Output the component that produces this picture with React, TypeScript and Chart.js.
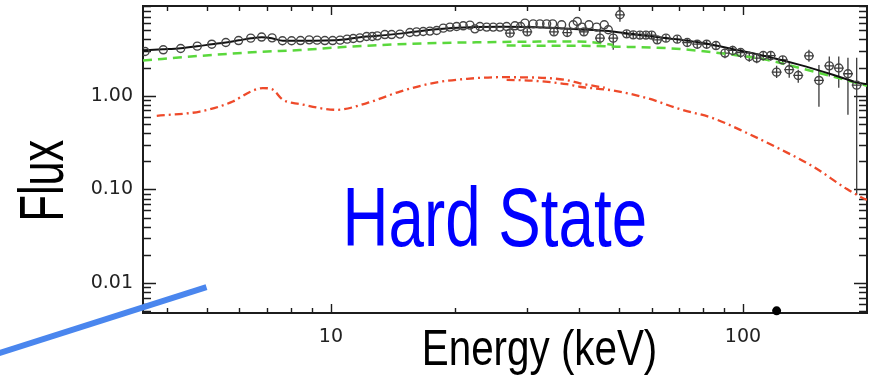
import { useEffect, useRef } from 'react';
import { Chart, registerables } from 'chart.js';

Chart.register(...registerables);

// Axis ranges (keV, flux)
const X_MIN = 3.5;
const X_MAX = 200;
const Y_MIN = 0.0048;
const Y_MAX = 9.1;

// Labelled ticks
const xTickLabels = [10, 100];
const yTickLabels = [0.01, 0.1, 1];

// Observed spectrum (energy in keV, flux, error range; null = error inside the marker)
const obsEnergy = [
  3.54, 3.92, 4.32, 4.74, 5.14, 5.56, 5.97, 6.39, 6.79, 7.2, 7.63, 8.03, 8.44, 8.86, 9.26, 9.67,
  10.1, 10.53, 10.95, 11.33, 11.76, 12.21, 12.6, 12.96,
  13.52, 14.04, 14.71, 15.55, 16.14, 16.75, 17.39, 18.06, 18.74, 19.45, 20.19, 20.95, 21.75, 22.36,
  23.0, 23.88, 24.77, 25.72, 26.7, 27.2, 27.97, 28.87, 29.58, 29.96, 30.97, 32.16, 33.39, 34.53,
  34.78, 36.31, 37.46, 38.74, 39.61, 40.66, 41.12, 42.29, 44.15, 44.98, 46.07, 47.11,
  48.44, 50.29, 52.21, 54.17, 56.23, 58.15, 60.03, 61.94, 65.04, 69.27, 73.25, 77.46, 81.64, 86.02,
  90.44, 94.41, 98.72, 103.6, 108.0, 112.0, 116.8, 120.7, 124.9, 129.5, 136.2, 144.6, 152.9, 162.0,
  170.8, 179.8, 188.8,
];
const obsFlux = [
  2.97, 3.1, 3.2, 3.39, 3.56, 3.71, 3.89, 4.13, 4.24, 4.16, 3.87, 3.87, 3.89, 3.96, 3.93, 3.89,
  3.89, 3.93, 4.03, 4.09, 4.16, 4.3, 4.3, 4.37,
  4.51, 4.51, 4.56, 4.74, 4.82, 4.86, 4.91, 4.98, 5.28, 5.42, 5.5, 5.59, 5.69, 5.19,
  5.5, 5.42, 5.42, 5.42, 5.5, 4.67, 5.59, 5.5, 5.97, 4.82, 5.87, 5.87, 5.87, 5.87,
  4.82, 5.73, 4.74, 5.73, 6.21, 5.42, 4.82, 5.73, 5.42, 4.13, 5.73, 5.07,
  4.13, 7.33, 4.59, 4.48, 4.45, 4.45, 4.45, 3.96, 4.13, 4.03, 3.71, 3.56, 3.56, 3.44,
  2.86, 3.05, 2.9, 2.63, 2.53, 2.69, 2.69, 1.79, 2.42, 1.9, 1.65, 2.67, 1.46, 2.09,
  1.98, 1.72, 1.3,
];
const obsFluxLo = [
  null, null, null, null, null, null, null, null, null, null, null, null, null, null, null, null,
  null, null, null, null, null, null, null, null,
  null, null, null, null, null, null, null, null, null, null, null, null, null, null,
  null, null, null, null, null, 4.3, null, null, null, 4.45, null, null, null, null,
  4.45, null, 4.35, null, null, null, 4.4, null, null, 3.65, null, null,
  3.1, 6.17, 4.18, 4.08, 4.05, 4.05, 4.05, 3.6, 3.76, 3.67, 3.38, 3.24, 3.24, 3.13,
  2.52, 2.68, 2.55, 2.31, 2.23, 2.37, 2.37, 1.55, 2.18, 1.56, 1.38, 2.31, 0.763, 1.61,
  1.22, 0.627, 0.0877,
];
const obsFluxHi = [
  null, null, null, null, null, null, null, null, null, null, null, null, null, null, null, null,
  null, null, null, null, null, null, null, null,
  null, null, null, null, null, null, null, null, null, null, null, null, null, null,
  null, null, null, null, null, 5.05, null, null, null, 5.2, null, null, null, null,
  5.2, null, 5.15, null, null, null, 5.25, null, null, 5.07, null, null,
  4.86, 8.71, 5.0, 4.88, 4.85, 4.85, 4.85, 4.32, 4.5, 4.39, 4.04, 3.88, 3.88, 3.75,
  3.2, 3.42, 3.25, 2.95, 2.83, 3.01, 3.01, 2.09, 2.66, 2.25, 1.9, 3.1, 2.14, 2.63,
  2.63, 2.55, 2.55,
];

// Total model
const modelEnergy = [
  3.5, 3.91, 4.32, 4.73, 5.14, 5.56, 5.98, 6.4, 6.8, 7.19, 7.65, 8.41, 9.67, 10.94, 12.17, 13.0,
  14.96, 18.07, 21.7, 26.2, 31.6, 38.0, 46.2, 54.1, 65.4, 78.6, 94.6, 114.3, 137.4, 165.3, 189, 200,
];
const modelFlux = [
  3.06, 3.14, 3.23, 3.38, 3.55, 3.71, 3.91, 4.11, 4.21, 4.11, 3.88, 3.87, 3.89, 4.03, 4.29, 4.37,
  4.65, 5.13, 5.39, 5.45, 5.39, 5.19, 4.94, 4.56, 4.13, 3.71, 3.15, 2.63, 2.14, 1.68, 1.39, 1.33,
];

// Comptonised continuum (low-energy and high-energy instrument normalisations)
const comptLowEnergy = [3.5, 4.81, 6.72, 8.41, 10.52, 13.14, 18.07, 23.0, 29.0, 36.0, 42.0, 48.4];
const comptLowFlux = [2.38, 2.67, 2.95, 3.08, 3.3, 3.48, 3.66, 3.73, 3.78, 3.8, 3.77, 3.5];
const comptHighEnergy = [26.7, 32.2, 40.2, 49.5, 65.4, 78.6, 94.6, 114.3, 137.4, 165.3, 189, 200];
const comptHighFlux = [3.44, 3.43, 3.42, 3.35, 3.23, 3.02, 2.74, 2.42, 1.98, 1.61, 1.37, 1.28];

// Reflection component
const reflLowEnergy = [
  3.78, 4.81, 5.78, 6.36, 6.84, 7.19, 7.65, 8.41, 10.34, 12.23, 14.71, 17.7, 21.4, 25.7, 30.9,
  37.4, 40.2, 46.2,
];
const reflLowFlux = [
  0.612, 0.68, 0.869, 1.1, 1.21, 1.18, 0.906, 0.818, 0.709, 0.836, 1.11, 1.37, 1.52, 1.58, 1.57,
  1.47, 1.36, 1.22,
];
const reflHighEnergy = [26.7, 30.9, 37.4, 40.2, 48.4, 58.5, 70.3, 84.5, 102.3, 123, 148, 178.8, 195.6, 200];
const reflHighFlux = [1.48, 1.45, 1.33, 1.25, 1.14, 0.945, 0.721, 0.578, 0.4, 0.27, 0.176, 0.101, 0.0808, 0.0775];

// Pointer line and the marker on the energy axis
const pointerEnergy = [1.49, 4.99];
const pointerFlux = [0.00167, 0.00906];
const markerEnergy = [120.7];
const markerFlux = [0.00506];

const TITLE_FONT = '"Liberation Sans", Arial, sans-serif';
const TICK_FONT = '"DejaVu Sans", sans-serif';
const INK = '#1c1c1c';

const toPoints = (xs: number[], ys: number[]) => xs.map((x, i) => ({ x, y: ys[i] }));

const matchLabel = (v: number, list: number[]) =>
  list.find((t) => Math.abs(v - t) / t < 1e-6);

// Text fitted to a given ink width and cap height
function drawFitted(
  ctx: CanvasRenderingContext2D,
  text: string,
  x: number,
  y: number,
  capHeight: number,
  width: number,
  color: string,
  vertical: boolean
) {
  ctx.save();
  ctx.font = `100px ${TITLE_FONT}`;
  const cap = ctx.measureText('H').actualBoundingBoxAscent || 72;
  const size = (100 * capHeight) / cap;
  ctx.font = `${size}px ${TITLE_FONT}`;
  const m = ctx.measureText(text);
  const ink = m.actualBoundingBoxLeft + m.actualBoundingBoxRight;
  ctx.translate(x, y);
  if (vertical) ctx.rotate(-Math.PI / 2);
  ctx.scale(width / ink, 1);
  ctx.fillStyle = color;
  ctx.textAlign = 'left';
  ctx.textBaseline = 'alphabetic';
  ctx.fillText(text, m.actualBoundingBoxLeft, 0);
  ctx.restore();
}

const decorPlugin = {
  id: 'decor',
  beforeDatasetsDraw(chart: any) {
    const { ctx, chartArea: a, scales } = chart;
    const xs = scales.x;
    const ys = scales.y;
    ctx.save();
    ctx.strokeStyle = INK;

    // frame
    ctx.lineWidth = 2;
    ctx.strokeRect(a.left, a.top, a.right - a.left, a.bottom - a.top);

    // inward ticks on all four sides
    ctx.lineWidth = 1.4;
    ctx.beginPath();
    for (let d = -3; d <= 1; d++) {
      for (let k = 1; k <= 9; k++) {
        const v = k * Math.pow(10, d);
        if (v <= Y_MIN || v >= Y_MAX) continue;
        const py = Math.round(ys.getPixelForValue(v)) + 0.5;
        const len = k === 1 ? 13 : 8;
        ctx.moveTo(a.left, py);
        ctx.lineTo(a.left + len, py);
        ctx.moveTo(a.right, py);
        ctx.lineTo(a.right - len, py);
      }
    }
    for (let d = 0; d <= 2; d++) {
      for (let k = 1; k <= 9; k++) {
        const v = k * Math.pow(10, d);
        if (v <= X_MIN || v >= X_MAX) continue;
        const px = Math.round(xs.getPixelForValue(v)) + 0.5;
        const len = k === 1 ? 9 : 5;
        ctx.moveTo(px, a.bottom);
        ctx.lineTo(px, a.bottom - len);
        ctx.moveTo(px, a.top);
        ctx.lineTo(px, a.top + len);
      }
    }
    ctx.stroke();

    // error bars of the observed spectrum
    ctx.strokeStyle = '#3a3a3a';
    ctx.lineWidth = 1.3;
    ctx.beginPath();
    obsEnergy.forEach((e, i) => {
      const lo = obsFluxLo[i];
      const hi = obsFluxHi[i];
      if (lo == null || hi == null) return;
      const px = xs.getPixelForValue(e);
      const py = ys.getPixelForValue(obsFlux[i]);
      ctx.moveTo(px, ys.getPixelForValue(lo));
      ctx.lineTo(px, ys.getPixelForValue(hi));
      ctx.moveTo(px - 5, py);
      ctx.lineTo(px + 5, py);
    });
    ctx.stroke();
    ctx.restore();
  },
  afterDraw(chart: any) {
    const { ctx } = chart;
    drawFitted(ctx, 'Hard State', 347, 246, 58, 298, '#0000ff', false);
    drawFitted(ctx, 'Energy (keV)', 425, 365, 35, 230, '#000000', false);
    drawFitted(ctx, 'Flux', 63, 218, 43, 78, '#000000', true);
  },
};

export default function App() {
  const canvasRef = useRef<HTMLCanvasElement | null>(null);

  useEffect(() => {
    const canvas = canvasRef.current;
    if (!canvas) return;

    const curve = (xs: number[], ys: number[], color: string, width: number, dash: number[], order: number) => ({
      data: toPoints(xs, ys),
      showLine: true,
      borderColor: color,
      borderWidth: width,
      borderDash: dash,
      pointRadius: 0,
      pointHoverRadius: 0,
      cubicInterpolationMode: 'monotone',
      order,
    });

    const chart = new Chart(canvas, {
      type: 'scatter',
      data: {
        datasets: [
          {
            data: toPoints(pointerEnergy, pointerFlux),
            showLine: true,
            borderColor: '#4a86ee',
            borderWidth: 6,
            borderCapStyle: 'butt',
            pointRadius: 0,
            pointHoverRadius: 0,
            clip: false,
            order: -1,
          } as any,
          {
            data: toPoints(markerEnergy, markerFlux),
            pointRadius: 4.5,
            pointBackgroundColor: '#000',
            pointBorderColor: '#000',
            pointBorderWidth: 0,
            clip: false,
            order: -1,
          } as any,
          {
            data: toPoints(obsEnergy, obsFlux),
            pointRadius: 4,
            pointBorderWidth: 1.4,
            pointBorderColor: '#444444',
            pointBackgroundColor: 'rgba(255,255,255,0)',
            order: 0,
          } as any,
          curve(modelEnergy, modelFlux, '#111111', 2, [], 1) as any,
          curve(comptLowEnergy, comptLowFlux, '#5ad83c', 2.5, [9, 6], 2) as any,
          curve(comptHighEnergy, comptHighFlux, '#5ad83c', 2.5, [9, 6], 2) as any,
          curve(reflLowEnergy, reflLowFlux, '#ee4a2a', 2.3, [8, 4, 2, 4], 3) as any,
          curve(reflHighEnergy, reflHighFlux, '#ee4a2a', 2.3, [8, 4, 2, 4], 3) as any,
        ],
      },
      options: {
        animation: false,
        responsive: true,
        maintainAspectRatio: false,
        layout: { padding: { top: 6, right: 12, left: 0, bottom: 0 } },
        plugins: {
          legend: { display: false },
          tooltip: { enabled: false },
        },
        events: [],
        scales: {
          x: {
            type: 'logarithmic',
            position: 'bottom',
            min: X_MIN,
            max: X_MAX,
            grid: { display: false, drawTicks: false },
            border: { display: false },
            ticks: {
              autoSkip: false,
              maxRotation: 0,
              padding: 13,
              color: '#222',
              font: { family: TICK_FONT, size: 19 },
              callback: (v: any) => {
                const t = matchLabel(Number(v), xTickLabels);
                return t === undefined ? '' : String(t);
              },
            },
            afterFit: (s: any) => {
              s.height = 67;
              s.paddingLeft = 0;
              s.paddingRight = 0;
            },
          },
          y: {
            type: 'logarithmic',
            min: Y_MIN,
            max: Y_MAX,
            grid: { display: false, drawTicks: false },
            border: { display: false },
            ticks: {
              autoSkip: false,
              padding: 10,
              color: '#222',
              font: { family: TICK_FONT, size: 19 },
              callback: (v: any) => {
                const t = matchLabel(Number(v), yTickLabels);
                return t === undefined ? '' : t.toFixed(2);
              },
            },
            afterFit: (s: any) => {
              s.width = 143;
              s.paddingTop = 0;
              s.paddingBottom = 0;
            },
          },
        },
      } as any,
      plugins: [decorPlugin],
    });

    return () => chart.destroy();
  }, []);

  return (
    <div style={{ position: 'absolute', left: 0, top: 0, width: 879, height: 380, background: '#fff' }}>
      <canvas ref={canvasRef} />
    </div>
  );
}
